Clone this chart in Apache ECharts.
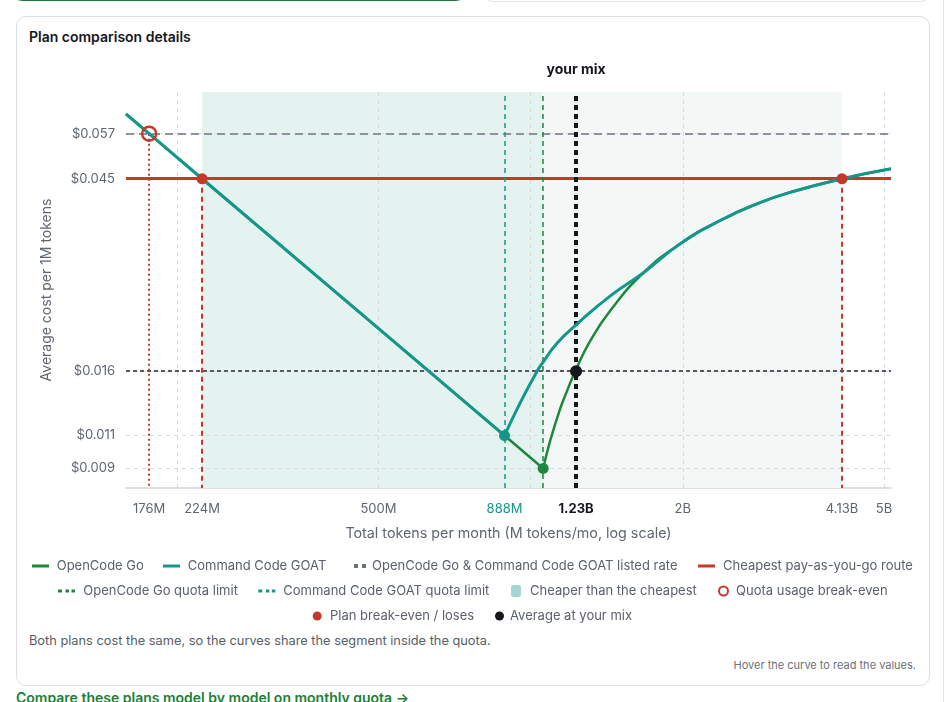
<!DOCTYPE html>
<html>
<head>
<meta charset="utf-8">
<script src="https://cdn.jsdelivr.net/npm/echarts@6.0.0/dist/echarts.min.js"></script>
<style>
  html, body { margin: 0; padding: 0; background: #fff; }
  body { width: 946px; height: 702px; overflow: hidden; position: relative; font-family: Inter, "Noto Sans", sans-serif; }
  .abs { position: absolute; }
  #topLeft { left: 12px; top: -20px; width: 452px; height: 19px; border: 1.5px solid #1f7a3c; border-radius: 10px; }
  #topRight { left: 483px; top: -20px; width: 446px; height: 20px; border: 1px solid #dfe2e8; border-radius: 10px; }
  #edge { left: 943px; top: 0; width: 1px; height: 702px; background: #e3e5ea; }
  #card { left: 16px; top: 16px; width: 912px; height: 668px; border: 1px solid #dcdfe5; border-radius: 10px; }
  #title { left: 29px; top: 28px; font-size: 14px; line-height: 18px; font-weight: 600; color: #15171c; }
  #note { left: 29px; top: 633px; font-size: 12.8px; line-height: 16px; color: #585e68; }
  #hover { right: 30px; top: 657px; font-size: 11px; line-height: 16px; color: #6b7079; }
  #link { left: 16px; top: 689px; font-size: 14px; line-height: 18px; font-weight: 600; color: #1a7f37; }
  #chart { left: 0; top: 0; width: 946px; height: 702px; }
</style>
</head>
<body>
<div id="topLeft" class="abs"></div>
<div id="topRight" class="abs"></div>
<div id="edge" class="abs"></div>
<div id="card" class="abs"></div>
<div id="title" class="abs">Plan comparison details</div>
<div id="note" class="abs">Both plans cost the same, so the curves share the segment inside the quota.</div>
<div id="hover" class="abs">Hover the curve to read the values.</div>
<div id="link" class="abs">Compare these plans model by model on monthly quota →</div>
<div id="chart" class="abs"></div>
<script>
// ---------------- data ----------------
const xTickValues = [176, 224, 500, 888, 1230, 2000, 4130, 5000];
const xTickLabels = ['176M', '224M', '500M', '888M', '1.23B', '2B', '4.13B', '5B'];
const xGridValues = [200, 500, 1000, 2000, 5000];
const yTickValues = [0.00944, 0.01126, 0.0159, 0.0446, 0.0568];
const yTickLabels = ['$0.009', '$0.011', '$0.016', '$0.045', '$0.057'];

const xMin = 158.4, xMax = 5162;
const yMin = 0.0085, yMax = 0.071;

const goTokens = [158.4, 176, 224, 500, 888, 1059, 1093, 1144, 1181, 1226, 1312, 1438, 1672, 1979, 2376, 2852, 3270, 4130, 5162];
const goCost   = [0.0631, 0.0568, 0.0446, 0.02, 0.01126, 0.00944, 0.01094, 0.01300, 0.01432, 0.01592, 0.0187, 0.0220, 0.02695, 0.0315, 0.0357, 0.0393, 0.0415, 0.0446, 0.04706];
const goatTokens = [158.4, 176, 224, 500, 888, 953, 1030, 1059, 1129, 1237, 1438, 1672, 1979, 2376, 2852, 3270, 4130, 5162];
const goatCost   = [0.0631, 0.0568, 0.0446, 0.02, 0.01126, 0.0134, 0.0159, 0.0167, 0.0185, 0.0205, 0.0238, 0.02695, 0.0315, 0.0357, 0.0393, 0.0415, 0.0446, 0.04706];

const listedRate = 0.0568;
const cheapestRate = 0.0446;
const goatQuota = 888;
const goQuota = 1059;
const goatQuotaCost = 0.01126;
const goQuotaCost = 0.00944;
const mixTokens = 1230;
const mixCost = 0.0159;
const quotaBreakEvenTokens = 176;
const planBreakEvenTokens = [224, 4130];
const cheaperRanges = [[224, 1059], [1059, 4130]];

// ---------------- styles ----------------
const GREEN = '#1f873d', TEAL = '#14968a', RED = '#c4392b', DARK = '#15171c';
const AXIS_TXT = '#5f6670';
const FONT = 'Inter';

function zip(a, b) { return a.map((v, i) => [v, b[i]]); }
function nearestIdx(arr, v) {
  let best = 0;
  for (let i = 1; i < arr.length; i++) {
    if (Math.abs(Math.log(arr[i] / v)) < Math.abs(Math.log(arr[best] / v))) best = i;
  }
  return best;
}
const close = (a, b) => Math.abs(Math.log(a / b)) < 1e-6;
// split a curve at its quota: straight part inside, curved part beyond
const inside = (pts, q) => pts.filter(p => p[0] <= q);
const beyond = (pts, q) => pts.filter(p => p[0] >= q);

const goPts = zip(goTokens, goCost);
const goatPts = zip(goatTokens, goatCost);

const legendLayout = [
  { name: 'OpenCode Go', left: 32, y: 566, w: 17, h: 3, textLeft: 56.7, icon: 'rect', style: { color: GREEN, borderWidth: 0 } },
  { name: 'Command Code GOAT', left: 163, y: 566, w: 17, h: 3, textLeft: 187.7, icon: 'rect', style: { color: TEAL, borderWidth: 0 } },
  { name: 'OpenCode Go & Command Code GOAT listed rate', left: 354, y: 566, w: 12, h: 4, textLeft: 372, icon: 'path://M0,0h4v4h-4zM8,0h4v4h-4z', style: { color: '#6b7079', borderWidth: 0 } },
  { name: 'Cheapest pay-as-you-go route', left: 698, y: 566, w: 17, h: 3, textLeft: 723, icon: 'rect', style: { color: RED, borderWidth: 0 } },
  { name: 'OpenCode Go quota limit', left: 58, y: 591, w: 17, h: 3, textLeft: 83.3, icon: 'path://M0,0h4v3h-4zM7.5,0h3.5v3h-3.5zM13.5,0h3.5v3h-3.5z', style: { color: GREEN, borderWidth: 0 } },
  { name: 'Command Code GOAT quota limit', left: 258.3, y: 591, w: 17, h: 3, textLeft: 283.3, icon: 'path://M0,0h4v3h-4zM7.5,0h3.5v3h-3.5zM13.5,0h3.5v3h-3.5z', style: { color: TEAL, borderWidth: 0 } },
  { name: 'Cheaper than the cheapest', left: 511, y: 591, w: 10, h: 12, textLeft: 530, icon: 'roundRect', style: { color: '#a3d6d0', borderWidth: 0 } },
  { name: 'Quota usage break-even', left: 718, y: 591, w: 9, h: 9, textLeft: 735, icon: 'circle', style: { color: 'rgba(0,0,0,0)', borderColor: RED, borderWidth: 2 } },
  { name: 'Plan break-even / loses', left: 312.7, y: 616, w: 9, h: 9, textLeft: 330, icon: 'circle', style: { color: RED, borderWidth: 0 } },
  { name: 'Average at your mix', left: 495, y: 616, w: 9, h: 9, textLeft: 510, icon: 'circle', style: { color: DARK, borderWidth: 0 } }
];

const legends = legendLayout.map(it => ({
  left: it.left, top: it.y - 8, padding: 0, orient: 'horizontal',
  itemWidth: it.w, itemHeight: it.h, selectedMode: false,
  icon: it.icon,
  data: [{ name: it.name, icon: it.icon, itemStyle: it.style }],
  textStyle: { color: '#5b616b', fontSize: 13, fontFamily: FONT, lineHeight: 16,
               padding: [0, 0, 0, Math.max(0, it.textLeft - (it.left + it.w + 5))] }
}));

const noLabel = { show: false };
const ML = { silent: true, precision: 8, symbol: ['none', 'none'], label: noLabel };

const option = {
  animation: false,
  textStyle: { fontFamily: FONT },
  legend: legends,
  grid: { left: 126, right: 55, top: 92, bottom: 214, containLabel: false },
  xAxis: {
    type: 'log', logBase: 10, min: xMin, max: xMax,
    name: 'Total tokens per month (M tokens/mo, log scale)',
    nameLocation: 'middle', nameGap: 39,
    nameTextStyle: { color: AXIS_TXT, fontSize: 14.3, fontFamily: FONT },
    axisLine: { show: true, lineStyle: { color: '#dcdfe4', width: 2 } },
    axisTick: { show: false },
    splitLine: { show: false },
    minorTick: { show: false }, minorSplitLine: { show: false },
    axisLabel: {
      customValues: xTickValues,
      margin: 15, color: AXIS_TXT, fontSize: 13, fontFamily: FONT,
      hideOverlap: false, showMinLabel: true, showMaxLabel: true,
      formatter: v => {
        const i = nearestIdx(xTickValues, v);
        const t = xTickLabels[i];
        if (close(xTickValues[i], goatQuota)) return '{goat|' + t + '}';
        if (close(xTickValues[i], mixTokens)) return '{mix|' + t + '}';
        return t;
      },
      rich: {
        goat: { color: TEAL, fontSize: 13, fontFamily: FONT },
        mix: { color: DARK, fontSize: 13, fontWeight: 700, fontFamily: FONT }
      }
    }
  },
  yAxis: {
    type: 'log', logBase: 10, min: yMin, max: yMax,
    name: 'Average cost per 1M tokens',
    nameLocation: 'middle', nameGap: 72, nameRotate: 90,
    nameTextStyle: { color: AXIS_TXT, fontSize: 14, fontFamily: FONT },
    axisLine: { show: false }, axisTick: { show: false },
    splitLine: { show: false },
    minorTick: { show: false }, minorSplitLine: { show: false },
    axisLabel: {
      customValues: yTickValues,
      margin: 11, color: AXIS_TXT, fontSize: 13, fontFamily: FONT,
      hideOverlap: false,
      formatter: v => yTickLabels[nearestIdx(yTickValues, v)]
    }
  },
  series: [
    {
      name: 'Cheaper than the cheapest', type: 'line', data: [], z: 1, silent: true,
      itemStyle: { color: '#a3d6d0' },
      markArea: {
        silent: true, z: 1,
        data: cheaperRanges.map((r, i) => [
          { xAxis: r[0], itemStyle: { color: i === 0 ? '#e4f2f0' : '#f3f8f7' } },
          { xAxis: r[1] }
        ])
      }
    },
    {
      name: 'gridlines', type: 'line', data: [], z: 2, silent: true,
      markLine: Object.assign({}, ML, {
        z: 2,
        lineStyle: { color: '#d6d9df', width: 1, type: [4, 4] },
        data: xGridValues.map(v => ({ xAxis: v })).concat(yTickValues.map(v => ({ yAxis: v })))
      })
    },
    {
      name: 'OpenCode Go & Command Code GOAT listed rate', type: 'line', data: [], z: 3, silent: true,
      itemStyle: { color: '#6b7079' },
      markLine: Object.assign({}, ML, {
        z: 3,
        lineStyle: { color: '#8e939b', width: 2, type: [8, 5] },
        data: [{ yAxis: listedRate }]
      })
    },
    {
      name: 'Cheapest pay-as-you-go route', type: 'line', data: [], z: 3, silent: true,
      itemStyle: { color: RED },
      markLine: Object.assign({}, ML, {
        z: 4,
        lineStyle: { color: RED, width: 3, type: 'solid' },
        data: [{ yAxis: cheapestRate }]
      })
    },
    {
      name: 'Command Code GOAT quota limit', type: 'line', data: [], z: 3, silent: true,
      itemStyle: { color: TEAL },
      markLine: Object.assign({}, ML, {
        z: 4,
        lineStyle: { color: TEAL, width: 1.5, type: [5, 4] },
        data: [{ xAxis: goatQuota }]
      })
    },
    {
      name: 'OpenCode Go quota limit', type: 'line', data: [], z: 3, silent: true,
      itemStyle: { color: GREEN },
      markLine: Object.assign({}, ML, {
        z: 4,
        lineStyle: { color: GREEN, width: 1.5, type: [5, 4] },
        data: [{ xAxis: goQuota }]
      })
    },
    {
      name: 'OpenCode Go', type: 'line', z: 10, silent: true,
      data: inside(goPts, goQuota), showSymbol: false, symbol: 'none',
      lineStyle: { color: GREEN, width: 2.5 }, itemStyle: { color: GREEN }
    },
    {
      name: 'OpenCode Go', type: 'line', z: 10, silent: true,
      data: beyond(goPts, goQuota), showSymbol: false, symbol: 'none',
      smooth: 0.5,
      lineStyle: { color: GREEN, width: 2.5 }, itemStyle: { color: GREEN }
    },
    {
      name: 'Command Code GOAT', type: 'line', z: 11, silent: true,
      data: inside(goatPts, goatQuota), showSymbol: false, symbol: 'none',
      lineStyle: { color: TEAL, width: 3 }, itemStyle: { color: TEAL }
    },
    {
      name: 'Command Code GOAT', type: 'line', z: 11, silent: true,
      data: beyond(goatPts, goatQuota), showSymbol: false, symbol: 'none',
      smooth: 0.5,
      lineStyle: { color: TEAL, width: 3 }, itemStyle: { color: TEAL }
    },
    {
      name: 'GOAT quota end', type: 'scatter', z: 12, silent: true,
      data: [[goatQuota, goatQuotaCost]], symbolSize: 11, itemStyle: { color: TEAL, opacity: 1 }
    },
    {
      name: 'Go quota end', type: 'scatter', z: 12, silent: true,
      data: [[goQuota, goQuotaCost]], symbolSize: 11, itemStyle: { color: GREEN, opacity: 1 }
    },
    {
      name: 'Quota usage break-even', type: 'scatter', z: 13, silent: true,
      data: [[quotaBreakEvenTokens, listedRate]], symbolSize: 14,
      itemStyle: { color: 'rgba(0,0,0,0)', borderColor: RED, borderWidth: 2.5, opacity: 1 },
      markLine: Object.assign({}, ML, {
        z: 4,
        lineStyle: { color: RED, width: 2, type: [2, 3] },
        data: [[{ coord: [quotaBreakEvenTokens, listedRate] }, { coord: [quotaBreakEvenTokens, yMin] }]]
      })
    },
    {
      name: 'Plan break-even / loses', type: 'scatter', z: 13, silent: true,
      data: planBreakEvenTokens.map(t => [t, cheapestRate]), symbolSize: 11,
      itemStyle: { color: RED, opacity: 1 },
      markLine: Object.assign({}, ML, {
        z: 4,
        lineStyle: { color: RED, width: 2, type: [5, 4] },
        data: planBreakEvenTokens.map(t => [{ coord: [t, cheapestRate] }, { coord: [t, yMin] }])
      })
    },
    {
      name: 'Average at your mix', type: 'scatter', z: 14, silent: true,
      data: [[mixTokens, mixCost]], symbolSize: 12,
      itemStyle: { color: DARK, opacity: 1 },
      markLine: {
        silent: true, precision: 8, z: 5, symbol: ['none', 'none'],
        data: [
          { xAxis: mixTokens,
            lineStyle: { color: DARK, width: 4, type: [5, 4] },
            label: { show: true, position: 'end', distance: 15, formatter: 'your mix',
                     color: DARK, fontSize: 14, fontWeight: 700, fontFamily: FONT } },
          { yAxis: mixCost,
            lineStyle: { color: '#555a61', width: 2, type: [4, 3] },
            label: { show: false } }
        ]
      }
    }
  ]
};

const chart = echarts.init(document.getElementById('chart'), null, { renderer: 'canvas' });
chart.setOption(option);
</script>
</body>
</html>
